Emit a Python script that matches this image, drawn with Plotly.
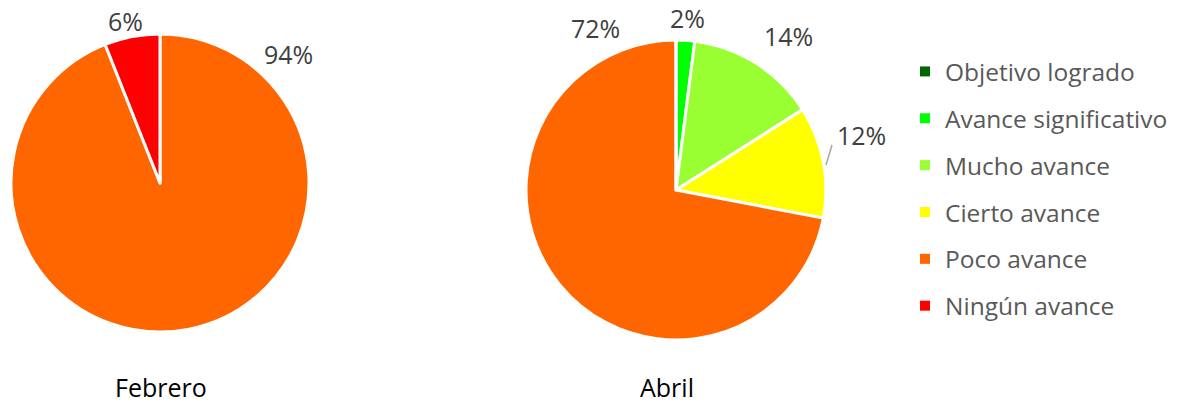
import plotly.graph_objects as go

# Progress categories and their colours
categories = ["Objetivo logrado", "Avance significativo", "Mucho avance",
              "Cierto avance", "Poco avance", "Ningún avance"]
colors = ["#006600", "#00FF00", "#99FF33", "#FFFF00", "#FF6600", "#FF0000"]

# Percentages per month
febrero = [0, 0, 0, 0, 94, 6]
abril = [0, 2, 14, 12, 72, 0]

W, H = 1184, 406
FONT = "Open Sans"


def px_x(x):
    return x / W


def px_y(y):
    return 1 - y / H


fig = go.Figure()

pie_common = dict(
    labels=categories,
    marker=dict(colors=colors, line=dict(color="white", width=3)),
    sort=False,
    direction="clockwise",
    rotation=0,
    textinfo="none",
    hoverinfo="label+percent",
    showlegend=False,
)

# Febrero pie: centre (160, 183), radius 149
fig.add_trace(go.Pie(values=febrero, name="Febrero",
                     domain=dict(x=[px_x(11), px_x(309)], y=[px_y(332), px_y(34)]),
                     **pie_common))
# Abril pie: centre (676, 190), radius 150
fig.add_trace(go.Pie(values=abril, name="Abril",
                     domain=dict(x=[px_x(526), px_x(826)], y=[px_y(340), px_y(40)]),
                     **pie_common))

# Legend entries (one per category)
for cat, col in zip(categories, colors):
    fig.add_trace(go.Scatter(x=[None], y=[None], mode="markers", name=cat,
                             legendgroup=cat,
                             marker=dict(symbol="square", size=10, color=col)))

# Data labels positioned around each pie
label_pos_feb = {5: (125, 21), 4: (288, 54)}
label_pos_abr = {4: (595, 28), 1: (688, 18), 2: (788, 36), 3: (861, 135)}

label_font = dict(family=FONT, size=25, color="#404040")
annotations = []
for idx, (x, y) in label_pos_feb.items():
    annotations.append(dict(x=px_x(x), y=px_y(y), xref="paper", yref="paper",
                            xanchor="center", yanchor="middle",
                            text=f"{febrero[idx]}%", showarrow=False,
                            font=label_font))
for idx, (x, y) in label_pos_abr.items():
    annotations.append(dict(x=px_x(x), y=px_y(y), xref="paper", yref="paper",
                            xanchor="center", yanchor="middle",
                            text=f"{abril[idx]}%", showarrow=False,
                            font=label_font))

# Month titles beneath the pies
for txt, x in [("Febrero", 161), ("Abril", 667)]:
    annotations.append(dict(x=px_x(x), y=px_y(387), xref="paper", yref="paper",
                            xanchor="center", yanchor="middle",
                            text=txt, showarrow=False,
                            font=dict(family=FONT, size=25, color="#000000")))

fig.update_layout(
    width=W, height=H,
    margin=dict(l=0, r=0, t=0, b=0),
    paper_bgcolor="white", plot_bgcolor="white",
    font=dict(family=FONT),
    xaxis=dict(visible=False, domain=[0.99, 1.0]),
    yaxis=dict(visible=False),
    annotations=annotations,
    # leader line for the 12% label
    shapes=[dict(type="line", xref="paper", yref="paper",
                 x0=px_x(826), y0=px_y(165), x1=px_x(832), y1=px_y(145),
                 line=dict(color="#A6A6A6", width=1.5))],
    legend=dict(x=px_x(905), y=px_y(49), xanchor="left", yanchor="top",
                font=dict(family=FONT, size=24.5, color="#595959"),
                tracegroupgap=12, bgcolor="rgba(0,0,0,0)"),
)

fig.write_html("out.html")
